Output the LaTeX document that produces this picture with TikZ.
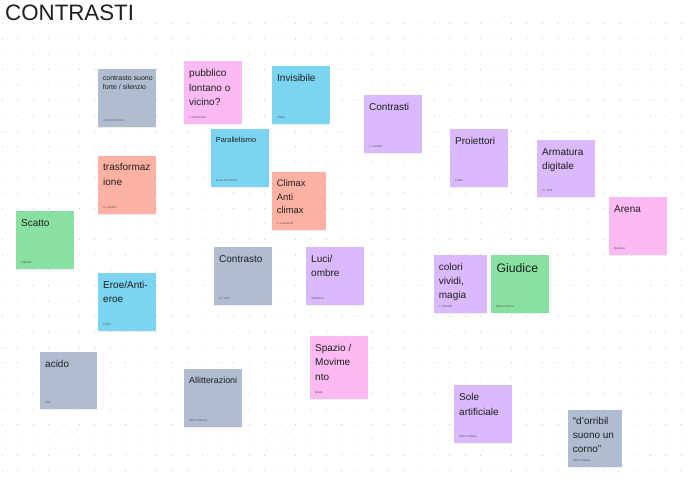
\documentclass[tikz,border=0pt]{standalone}
\usepackage{fontspec}
\setmainfont{Liberation Sans}
\usepackage{xcolor}
\usetikzlibrary{positioning,shadows}
\definecolor{slate}{HTML}{B0BDD1}
\definecolor{rose}{HTML}{FBBAF1}
\definecolor{sky}{HTML}{7BD5F0}
\definecolor{coral}{HTML}{FDB1A3}
\definecolor{mint}{HTML}{88E1A1}
\definecolor{lilac}{HTML}{DAB9FC}
\definecolor{ink}{HTML}{1E1E1E}
\definecolor{griddot}{HTML}{C4C4C4}
\tikzstyle{sticky} = [rectangle, anchor=north west, inner sep=0pt, minimum width=58pt, minimum height=58pt, drop shadow={shadow xshift=0pt, shadow yshift=-0.8pt, opacity=0.12}]
\tikzstyle{notetext} = [anchor=north west, inner sep=0pt, align=left, text=ink, font=\fontsize{10}{14.3}\selectfont]
\tikzstyle{author} = [anchor=base west, inner sep=0pt, text=ink!75, font=\fontsize{3}{3}\selectfont]
\tikzset{
	titletext/.style={anchor=base west, inner sep=0pt, text=ink, font=\fontsize{22.3}{24}\selectfont}
}
\begin{document}
\begin{tikzpicture}[x=1pt, y=-1pt]
%----------------------------------------------------------------------------
% Board and dot grid
\fill[white] (0,0) rectangle (693,484);
\useasboundingbox (0,0) rectangle (693,484);
\foreach \i in {0,...,44}
	\foreach \j in {0,...,29}
		\fill[griddot] (2.3+15.43*\i, 23.3+15.43*\j) circle (0.55pt);

\node (boardTitle) [titletext] at (5,21) {CONTRASTI};

%----------------------------------------------------------------------------
% Left column
\node (suono) [sticky, fill=slate] at (98,69) {};
\node [notetext, font=\fontsize{7}{8.7}\selectfont] at ([xshift=4.7pt, yshift=-7pt] suono.north west) {contrasto suono\\forte / silenzio};
\node [author] at ([xshift=5pt, yshift=6pt] suono.south west) {Anna Di Franco};

\node (trasformazione) [sticky, fill=coral] at (98,156) {};
\node [notetext] at ([xshift=5pt, yshift=-7.5pt] trasformazione.north west) {trasformaz\\ione};
\node [author] at ([xshift=5pt, yshift=6pt] trasformazione.south west) {m. parolin};

\node (scatto) [sticky, fill=mint] at (16,211) {};
\node [notetext] at ([xshift=5pt, yshift=-8pt] scatto.north west) {Scatto};
\node [author] at ([xshift=5pt, yshift=6pt] scatto.south west) {Fabrizio};

\node (eroe) [sticky, fill=sky] at (98,273) {};
\node [notetext] at ([xshift=5pt, yshift=-8pt] eroe.north west) {Eroe/Anti-\\eroe};
\node [author] at ([xshift=5pt, yshift=6pt] eroe.south west) {Linda};

\node (acido) [sticky, fill=slate, minimum width=57pt, minimum height=57pt] at (40,352) {};
\node [notetext] at ([xshift=5pt, yshift=-8pt] acido.north west) {acido};
\node [author] at ([xshift=5pt, yshift=6pt] acido.south west) {Elia};

%----------------------------------------------------------------------------
% Middle columns
\node (pubblico) [sticky, fill=rose, minimum height=63pt] at (184,61) {};
\node [notetext] at ([xshift=5pt, yshift=-8.5pt] pubblico.north west) {pubblico\\lontano o\\vicino?};
\node [author] at ([xshift=5pt, yshift=6pt] pubblico.south west) {L. D'Ascenzi};

\node (invisibile) [sticky, fill=sky] at (272,66) {};
\node [notetext] at ([xshift=5pt, yshift=-8pt] invisibile.north west) {Invisibile};
\node [author] at ([xshift=5pt, yshift=6pt] invisibile.south west) {Vlada};

\node (parallelismo) [sticky, fill=sky] at (211,129) {};
\node [notetext, font=\fontsize{7.4}{9}\selectfont] at ([xshift=4.7pt, yshift=-7.7pt] parallelismo.north west) {Parallelismo};
\node [author] at ([xshift=5pt, yshift=6pt] parallelismo.south west) {Anna Di Franco};

\node (climax) [sticky, fill=coral, minimum width=54pt] at (272,172) {};
\node [notetext, font=\fontsize{9.4}{13.7}\selectfont] at ([xshift=4.7pt, yshift=-7.3pt] climax.north west) {Climax\\Anti\\climax};
\node [author] at ([xshift=5pt, yshift=6pt] climax.south west) {L. Lascarelli};

\node (contrasto) [sticky, fill=slate] at (214,247) {};
\node [notetext] at ([xshift=5pt, yshift=-8pt] contrasto.north west) {Contrasto};
\node [author] at ([xshift=5pt, yshift=6pt] contrasto.south west) {m. sorti};

\node (luci) [sticky, fill=lilac] at (306,247) {};
\node [notetext] at ([xshift=5pt, yshift=-8pt] luci.north west) {Luci/\\ombre};
\node [author] at ([xshift=5pt, yshift=6pt] luci.south west) {Valentina};

\node (spazio) [sticky, fill=rose, minimum height=63pt] at (310,336) {};
\node [notetext] at ([xshift=5pt, yshift=-8pt] spazio.north west) {Spazio /\\Movime\\nto};
\node [author] at ([xshift=5pt, yshift=6pt] spazio.south west) {Greta};

\node (allitterazioni) [sticky, fill=slate] at (184,369) {};
\node [notetext, font=\fontsize{8.9}{11}\selectfont] at ([xshift=5pt, yshift=-7.7pt] allitterazioni.north west) {Allitterazioni};
\node [author] at ([xshift=5pt, yshift=6pt] allitterazioni.south west) {Mario Patucci};

%----------------------------------------------------------------------------
% Right columns
\node (contrasti) [sticky, fill=lilac] at (364,95) {};
\node [notetext] at ([xshift=5pt, yshift=-8pt] contrasti.north west) {Contrasti};
\node [author] at ([xshift=5pt, yshift=6pt] contrasti.south west) {L. Laudati};

\node (proiettori) [sticky, fill=lilac] at (450,129) {};
\node [notetext] at ([xshift=5pt, yshift=-8pt] proiettori.north west) {Proiettori};
\node [author] at ([xshift=5pt, yshift=6pt] proiettori.south west) {Linda};

\node (armatura) [sticky, fill=lilac, minimum height=57pt] at (537,140) {};
\node [notetext] at ([xshift=5pt, yshift=-8pt] armatura.north west) {Armatura\\digitale};
\node [author] at ([xshift=5pt, yshift=6pt] armatura.south west) {m. sorti};

\node (arena) [sticky, fill=rose] at (609,197) {};
\node [notetext] at ([xshift=5pt, yshift=-8pt] arena.north west) {Arena};
\node [author] at ([xshift=5pt, yshift=6pt] arena.south west) {Beatrice};

\node (colori) [sticky, fill=lilac, minimum width=53pt] at (434,255) {};
\node [notetext] at ([xshift=4.7pt, yshift=-7.7pt] colori.north west) {colori\\vividi,\\magia};
\node [author] at ([xshift=5pt, yshift=6pt] colori.south west) {L. Dinardi};

\node (giudice) [sticky, fill=mint] at (491,255) {};
\node [notetext, font=\fontsize{12.3}{15}\selectfont] at ([xshift=5.3pt, yshift=-8.5pt] giudice.north west) {Giudice};
\node [author] at ([xshift=5pt, yshift=6pt] giudice.south west) {Mario Palese};

\node (sole) [sticky, fill=lilac] at (454,385) {};
\node [notetext] at ([xshift=5pt, yshift=-8.5pt] sole.north west) {Sole\\artificiale};
\node [author] at ([xshift=5pt, yshift=6pt] sole.south west) {Mario Palese};

\node (orribil) [sticky, fill=slate, minimum width=54pt, minimum height=57pt] at (568,410) {};
\node [notetext] at ([xshift=4.7pt, yshift=-6.7pt] orribil.north west) {“d’orribil\\suono un\\corno”};
\node [author] at ([xshift=5pt, yshift=6pt] orribil.south west) {Mario Palese};

\end{tikzpicture}
\end{document}
